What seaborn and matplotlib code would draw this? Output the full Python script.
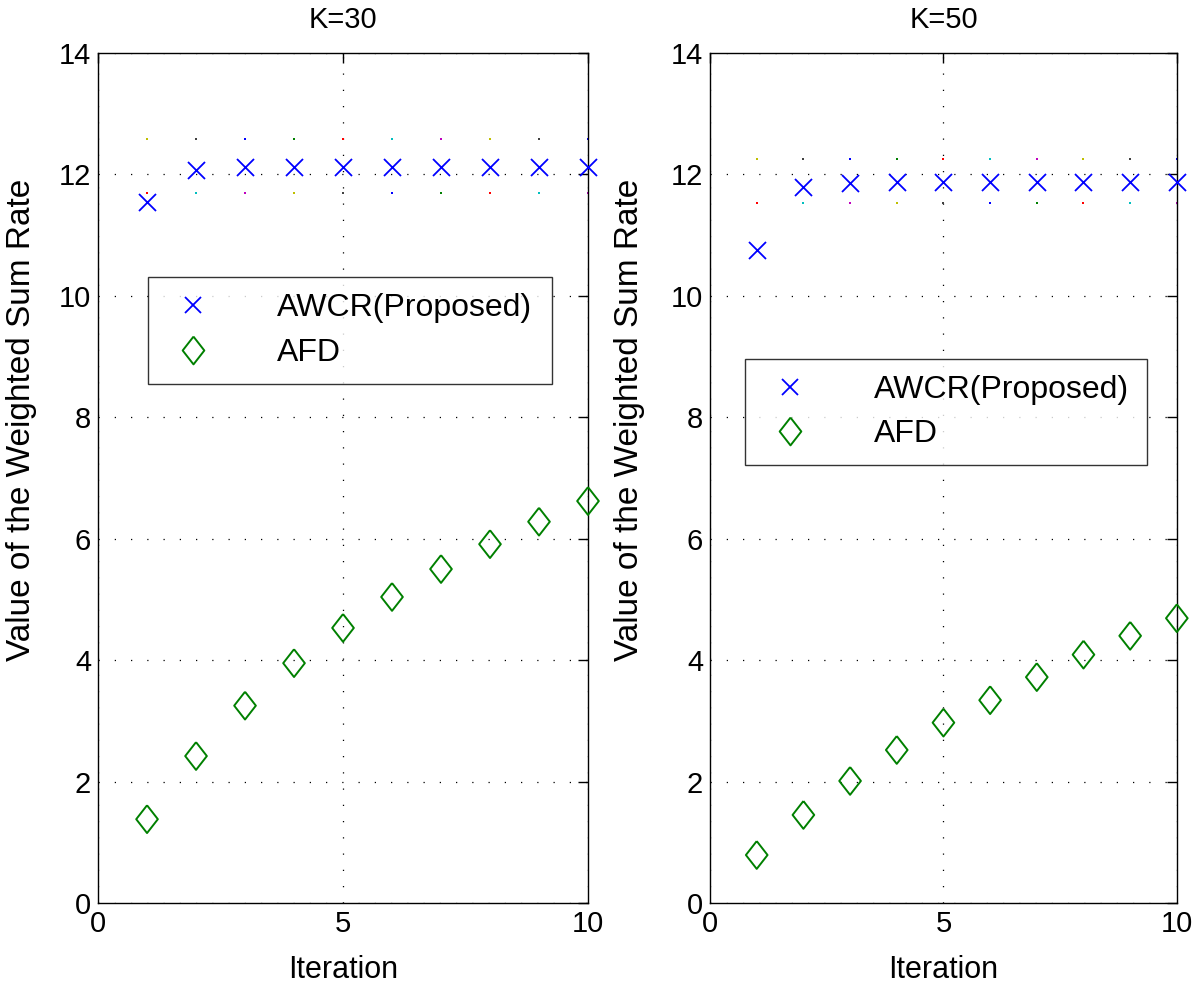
import numpy as np
import pandas as pd
import matplotlib
matplotlib.use("Agg")
import matplotlib.pyplot as plt
import seaborn as sns
from matplotlib.lines import Line2D

# --- DATA ---
iterations = [1, 2, 3, 4, 5, 6, 7, 8, 9, 10]
awcr_k30 = [11.55, 12.08, 12.12, 12.13, 12.13, 12.13, 12.13, 12.13, 12.13, 12.13]
afd_k30 = [1.38, 2.42, 3.25, 3.95, 4.53, 5.04, 5.50, 5.91, 6.28, 6.62]
awcr_k50 = [10.76, 11.80, 11.86, 11.87, 11.88, 11.88, 11.88, 11.88, 11.88, 11.88]
afd_k50 = [0.79, 1.45, 2.01, 2.52, 2.97, 3.34, 3.72, 4.09, 4.40, 4.69]
titles = ["K=30", "K=50"]
series_labels = ["AWCR(Proposed)", "AFD"]

# faint point markers sitting above / below the AWCR points
faint_hi_k30 = [12.58] * 10
faint_lo_k30 = [11.70] * 10
faint_hi_k50 = [12.25] * 10
faint_lo_k50 = [11.53] * 10
faint_hi_colors = ["y", "k", "b", "g", "r", "c", "m", "y", "k", "b"]
faint_lo_colors = ["r", "c", "m", "y", "k", "b", "g", "r", "c", "m"]

# matlab default letter colours
MCOL = {"b": (0, 0, 1), "g": (0, 0.5, 0), "r": (1, 0, 0), "c": (0, 0.75, 0.75),
        "m": (0.75, 0, 0.75), "y": (0.75, 0.75, 0), "k": (0.25, 0.25, 0.25)}
BLUE = "#0000ff"
GREEN = "#008000"
DIAMOND = [(0, 1), (0.78, 0), (0, -1), (-0.78, 0), (0, 1)]

sns.set_style("white")
plt.rcParams["font.family"] = ["Liberation Sans", "DejaVu Sans"]
for key in ["text.color", "axes.labelcolor", "xtick.color", "ytick.color"]:
    plt.rcParams[key] = "black"

fig = plt.figure(figsize=(12, 9.9), dpi=100)
ax_left = fig.add_axes([0.0817, 0.0879, 0.4083, 0.8586])
ax_right = fig.add_axes([0.5917, 0.0879, 0.389, 0.8586])

panels = [
    (ax_left, awcr_k30, afd_k30, faint_hi_k30, faint_lo_k30, titles[0],
     (0.102, 0.614, 0.824, 0.122), -0.124),
    (ax_right, awcr_k50, afd_k50, faint_hi_k50, faint_lo_k50, titles[1],
     (0.075, 0.518, 0.861, 0.122), -0.139),
]

for ax, awcr, afd, hi, lo, title, leg_box, ylab_x in panels:
    df = pd.DataFrame({"Iteration": iterations, "AWCR": awcr, "AFD": afd,
                       "hi": hi, "lo": lo})
    sns.scatterplot(data=df, x="Iteration", y="hi", ax=ax, marker="s", s=2,
                    c=[MCOL[c] for c in faint_hi_colors], linewidth=0,
                    clip_on=False, zorder=2)
    sns.scatterplot(data=df, x="Iteration", y="lo", ax=ax, marker="s", s=2,
                    c=[MCOL[c] for c in faint_lo_colors], linewidth=0,
                    clip_on=False, zorder=2)
    sns.scatterplot(data=df, x="Iteration", y="AWCR", ax=ax, marker="x",
                    color=BLUE, s=150, linewidth=1.3, clip_on=False, zorder=3)
    sns.scatterplot(data=df, x="Iteration", y="AFD", ax=ax, marker=DIAMOND,
                    facecolor="none", edgecolor=GREEN, s=400, linewidth=1.4,
                    clip_on=False, zorder=3)

    ax.set_xlim(0, 10)
    ax.set_ylim(0, 14)
    ax.set_xticks([0, 5, 10])
    ax.set_yticks(np.arange(0, 15, 2))
    ax.set_title(title, fontsize=21, pad=18)
    ax.set_xlabel("Iteration", fontsize=22, labelpad=12)
    ax.set_ylabel("Value of the Weighted Sum Rate", fontsize=24)
    ax.yaxis.set_label_coords(ylab_x, 0.568)
    ax.tick_params(direction="in", length=7, width=1, labelsize=21,
                   top=True, right=True, pad=5)
    ax.grid(True, linestyle=(0, (1, 12)), color="black", linewidth=0.9)
    for sp in ax.spines.values():
        sp.set_color("black")
        sp.set_linewidth(1.0)
        sp.set_visible(True)

    handles = [
        Line2D([], [], linestyle="none", marker="x", color=BLUE,
               markersize=11, markeredgewidth=1.3),
        Line2D([], [], linestyle="none", marker=DIAMOND, markerfacecolor="none",
               markeredgecolor=GREEN, markersize=20, markeredgewidth=1.4),
    ]
    leg = ax.legend(handles, series_labels, loc="upper left",
                    bbox_to_anchor=leg_box, mode="expand", fontsize=23,
                    frameon=True, fancybox=False, borderpad=0.5,
                    labelspacing=0.45, handlelength=1.8, handletextpad=1.75,
                    borderaxespad=0)
    leg.get_frame().set_edgecolor("black")
    leg.get_frame().set_linewidth(1.0)

fig.savefig("out.png", dpi=100)
